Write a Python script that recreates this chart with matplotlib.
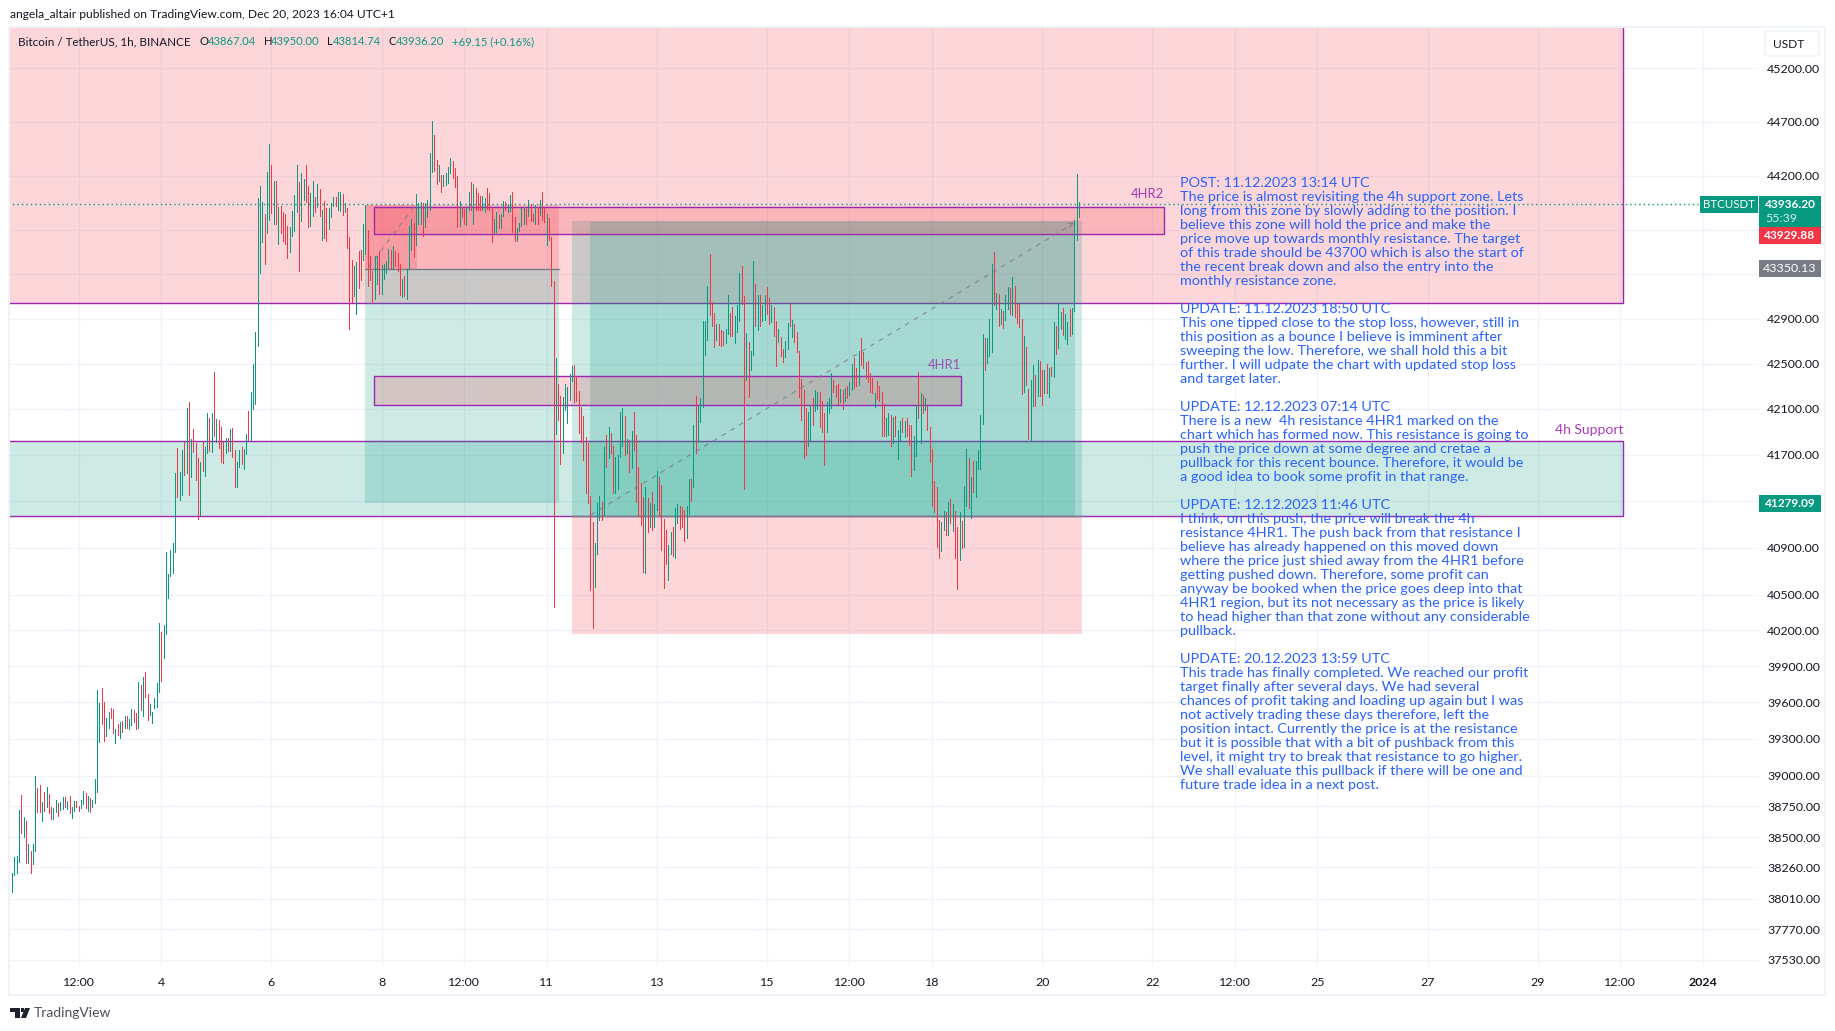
import matplotlib
matplotlib.use("Agg")
import matplotlib.pyplot as plt
from matplotlib.patches import Rectangle, Polygon, FancyBboxPatch

# ------------------ DATA ------------------
first_hour = -65   # hours relative to Dec 4 00:00
bar_high = [
38215,38345,38354,38719,38841,38664,38629,38444,38394,38449,
38999,38899,38922,38786,38867,38908,38850,38745,38737,38800,
38777,38783,38826,38826,38792,38832,38745,38792,38792,38751,
38800,38873,38858,38832,38815,38800,38971,39705,39597,39723,
39603,39471,39519,39555,39546,39378,39420,39435,39444,39486,
39486,39462,39546,39537,39513,39771,39747,39807,39849,39672,
39588,39525,39639,39765,40260,40185,40242,40863,40679,40882,
40941,41537,41756,41553,41737,41809,42105,42164,41834,41921,
41799,41668,41640,41809,41771,42062,42018,42062,42427,42008,
41999,41940,41809,41843,41843,41921,41930,41737,41640,41737,
41765,41746,41877,42086,42252,42498,42777,
43997,44108,43957,43849,44237,44496,44302,44154,44154,
43914,43923,43868,43849,43738,43729,43877,44025,44302,44145,
44219,44172,44293,44108,44043,44154,44006,44126,44080,43886,
43969,43904,43904,43951,44006,44006,44052,44052,44034,43951,
43904,43637,43424,43378,43406,43507,43516,43757,43932,43701,
43461,43332,43461,43461,43507,43387,43396,43415,43526,43516,
43553,43507,43489,43396,43258,43285,43350,43738,43803,43766,
44034,43948,43960,43951,43948,43978,44413,44708,44579,44348,
44293,44209,44209,44219,44283,44366,44339,44274,44200,43969,
43914,43895,43904,44052,44145,44126,44089,44043,44015,44015,
43997,44089,44043,43904,43803,43868,43840,43849,43969,43960,
43941,44025,44052,43821,43720,43766,43904,43911,43895,43978,
43941,43849,43932,43914,43978,44052,43904,43849,43812,43637,
43240,42546,42319,42213,42205,42319,42292,42406,42476,42485,
42389,42257,42117,42038,41854,41802,41346,41123,40943,41285,
41346,41294,41767,41872,41942,41889,41775,41679,41697,42073,
42108,42038,41837,41828,41907,42073,41872,41591,41451,41337,
41416,41329,41285,41381,41276,41556,41504,41434,41148,41046,
40926,41029,41072,41243,41276,41259,41250,41225,41259,41486,
41486,41959,42213,42126,42196,42879,42879,43194,43487,43048,
42947,42853,42853,42800,42792,42809,43112,42947,43002,42920,
43020,43313,43377,43103,42774,42695,42608,43423,43212,43112,
43112,43020,43112,43185,43084,43020,43002,42879,42809,42739,
42634,42704,42862,43029,42888,42853,42783,42616,42362,42266,
42108,42073,42135,42196,42266,42249,42252,42173,42060,42162,
42200,42419,42357,42314,42322,42279,42270,42287,42302,42340,
42498,42550,42463,42611,42725,42603,42515,42524,42419,42375,
42243,42349,42305,42252,42147,42024,42068,42051,42033,42042,
41919,41998,42024,41998,42024,41963,41963,41867,42138,42427,
42243,42226,42200,42130,41946,41753,41473,41420,41132,41115,
41209,41201,41289,41315,41277,41209,41073,41201,41124,41429,
41753,41674,41508,41648,41648,41744,42051,42760,42725,42725,
42901,43390,43501,43132,43123,42985,42967,43114,43188,43178,
43271,43197,43028,43028,42901,42743,42647,42279,42357,42489,
42401,42533,42524,42445,42445,42498,42463,42471,42874,42839,
43028,42957,42994,42939,42866,42985,42994,43796,44210,43961]
bar_low = [
38061,38200,38215,38304,38533,38505,38299,38299,38217,38290,
38394,38705,38705,38629,38711,38745,38696,38647,38647,38705,
38670,38722,38728,38742,38728,38696,38655,38711,38745,38711,
38739,38769,38737,38711,38705,38745,38777,38867,39276,39420,
39285,39327,39393,39471,39345,39267,39336,39309,39360,39387,
39387,39381,39411,39441,39378,39387,39537,39486,39645,39453,
39495,39429,39555,39561,39687,39780,39966,40167,40470,40658,
40686,40863,41335,41310,41353,41528,41544,41353,41503,41721,
41484,41147,41179,41562,41519,41712,41731,41721,41859,41809,
41756,41634,41625,41712,41731,41731,41678,41419,41422,41597,
41615,41572,41703,41824,41824,42096,42143,
42654,43313,43590,43396,43673,43794,43855,43757,43757,
43572,43673,43600,43572,43442,43498,43646,43692,43868,43332,
43784,43978,43960,43729,43738,43831,43868,43914,43831,43609,
43627,43600,43710,43821,43923,43923,43886,43877,43840,43868,
43535,42805,43054,43101,42944,43174,43248,43424,43486,43193,
43248,43045,43073,43211,43119,43119,43258,43313,43359,43350,
43350,43378,43332,43110,43091,43101,43073,43350,43516,43452,
43563,43757,43757,43646,43729,43824,43886,44237,44246,44126,
44154,44052,44108,44117,44135,44219,44182,44098,43729,43738,
43821,43757,43747,43886,43886,43757,43886,43886,43886,43886,
43868,43895,43886,43590,43673,43683,43720,43720,43831,43886,
43868,43877,43683,43600,43600,43692,43738,43757,43757,43831,
43784,43784,43757,43757,43840,43794,43775,43563,43609,43193,
40399,41881,42003,41618,41714,42091,41977,42178,42345,42161,
42170,41889,41810,41653,41364,41285,40536,40220,40561,40849,
41140,41140,41183,41591,41670,41714,41372,41372,41399,41679,
41775,41697,41714,41548,41583,41740,41294,41171,41089,40695,
40687,41029,41072,41046,41080,41226,41171,40883,40559,40764,
40627,40841,40832,40807,41114,41063,41080,40960,40986,41191,
41302,41416,41714,41810,41986,42117,42573,42713,42929,42835,
42643,42713,42669,42660,42669,42686,42765,42748,42748,42686,
42783,42879,43029,41399,42354,42205,42441,42573,42835,42800,
42835,42879,42888,42938,42853,42870,42748,42476,42695,42564,
42511,42555,42634,42835,42739,42695,42599,42205,42003,41670,
41697,41775,41828,41959,42082,42100,41946,41902,41607,41902,
42060,42112,42252,42208,42147,42165,42103,42173,42200,42226,
42270,42287,42302,42314,42489,42463,42375,42340,42252,42243,
42121,42191,42173,41867,41867,41867,41876,41779,41805,41867,
41665,41832,41902,41858,41867,41788,41516,41569,41692,42024,
41805,42060,42095,41919,41639,41260,41201,40902,40809,40868,
41047,41005,41005,41107,41039,40809,40545,40792,40894,40902,
41260,41243,41150,41376,41332,41578,41578,41972,42445,42506,
42568,42603,43022,42985,42839,42848,42813,42892,42985,42939,
42930,42911,42857,42830,42235,42252,42314,41840,41823,42130,
42130,42217,42217,42138,42243,42243,42208,42387,42384,42585,
42638,42804,42752,42717,42673,42743,42760,42967,43611,43823]
bar_dir = ("GGGGRGRGRG" "GRRGRGRRGG" "RGGRGRGGRR" "GGRGRGGGGR" "RGGRRGRGRG"
           "RGGRRGRGRR" "GGGGGRGGGG" "GGRGGRGRGR" "RRGRGGRGRG" "RRRGRGRRGG"
           "RGGRGGG" "GGGRGGRGR" "GRRRRGGGGR" "GGRRGGRGRG" "RRGGGRGGRG"
           "RRRGGRRGGR" "RRGGRGGGGR" "GRRRGRGGGR" "GGGRGGGGRR" "GRGGGGRRRG"
           "RRGGRGRRRG" "GRRRGGRGGR" "GGRRGGGGRG" "RRGRGRRGRR" "RGRRGGGGGR"
           "RRRRRRRRGG" "GRGRGRRGGG" "GRGRGRRRRR" "GRGRGGRRRR" "GGRGGRRRGG"
           "RGRGGGGGRR" "RGRRRGGRRG" "GGRRGRGGRG" "RGGRRGRRGR" "RGGRGRRRRR"
           "RGGRGGRRRG" "GGRRRGRGRG" "GRRGRRRRRR" "GRRRRGGRGR" "GGRGRRRGGR"
           "GRGRRRRRRG" "GRGRGRRGRG" "GRGRGGGGRG" "GGRGRGRGGR" "GRRRRGRRGG"
           "RGRRGRGRGR" "GGRGGRGGGG")

price_ticks = [45200,44700,44200,43700,43300,42900,42500,42100,41700,41300,40900,
               40500,40200,39900,39600,39300,39000,38750,38500,38260,38010,37770,37530]
covered_ticks = [43700, 43300, 41300]   # hidden behind the price boxes in the reference
time_ticks = [-36,0,48,96,132,168,216,264,300,336,384,432,468,504,552,600,636,672]
time_labels = ['12:00','4','6','8','12:00','11','13','15','12:00','18','20','22',
               '12:00','25','27','29','12:00','2024']

resistance_bottom = 43039
support_zone = (41168, 41818)
hr2_zone = (43662, 43909)
hr1_zone = (42134, 42389)
short_pos = dict(stop=43929.88, entry=43350.13, target=41279.09)
long_pos = dict(target=43784, entry=41170, stop=40166)
last_price = 43936.20

note_lines = """POST: 11.12.2023 13:14 UTC
The price is almost revisiting the 4h support zone. Lets
long from this zone by slowly adding to the position. I
believe this zone will hold the price and make the
price move up towards monthly resistance. The target
of this trade should be 43700 which is also the start of
the recent break down and also the entry into the
monthly resistance zone.

UPDATE: 11.12.2023 18:50 UTC
This one tipped close to the stop loss, however, still in
this position as a bounce I believe is imminent after
sweeping the low. Therefore, we shall hold this a bit
further. I will udpate the chart with updated stop loss
and target later.

UPDATE: 12.12.2023 07:14 UTC
There is a new  4h resistance 4HR1 marked on the
chart which has formed now. This resistance is going to
push the price down at some degree and cretae a
pullback for this recent bounce. Therefore, it would be
a good idea to book some profit in that range.

UPDATE: 12.12.2023 11:46 UTC
I think, on this push, the price will break the 4h
resistance 4HR1. The push back from that resistance I
believe has already happened on this moved down
where the price just shied away from the 4HR1 before
getting pushed down. Therefore, some profit can
anyway be booked when the price goes deep into that
4HR1 region, but its not necessary as the price is likely
to head higher than that zone without any considerable
pullback.

UPDATE: 20.12.2023 13:59 UTC
This trade has finally completed. We reached our profit
target finally after several days. We had several
chances of profit taking and loading up again but I was
not actively trading these days therefore, left the
position intact. Currently the price is at the resistance
but it is possible that with a bit of pushback from this
level, it might try to break that resistance to go higher.
We shall evaluate this pullback if there will be one and
future trade idea in a next post.""".split("\n")

# ------------------ STYLE ------------------
GREEN, RED, PURPLE, BLUE, GREY = '#089981', '#f23645', '#9c27b0', '#2962ff', '#787b86'
DARK = '#131722'
GRIDC = '#f0f3fa'
PX = 0.72
FONT = 'Lato'
W, H = 1835, 1031
plt.rcParams['font.family'] = [FONT, 'DejaVu Sans']
fig = plt.figure(figsize=(W/100, H/100), dpi=100, facecolor='white')
fx = lambda x: x / W
fy = lambda y: 1 - y / H

ax = fig.add_axes([fx(10), fy(967), (1759-10)/W, (967-27)/H])
ax.set_yscale('log')
ax.set_xlim(-65.96, 696.5)
ax.set_ylim(37474, 45591)
for s in ax.spines.values():
    s.set_visible(False)
ax.set_yticks(price_ticks, ['' if p in covered_ticks else f'{p:.2f}' for p in price_ticks])
ax.minorticks_off()
ax.set_xticks(time_ticks, time_labels)
ax.yaxis.tick_right()
ax.tick_params(axis='y', length=0, pad=5.8, labelsize=8.9, labelcolor=DARK)
ax.tick_params(axis='x', length=0, pad=7.5, labelsize=8.9, labelcolor=DARK)
ax.get_xticklabels()[-1].set_fontweight('bold')
ax.set_axisbelow(True)
ax.grid(True, color=GRIDC, lw=1.4*PX)

LEFT, RIGHT, TOP = -80, 637.4, 47000
def rect(x0, x1, p0, p1, color, alpha=0.2, edge=None, z=1.0):
    ax.add_patch(Rectangle((x0, p0), x1-x0, p1-p0, facecolor=matplotlib.colors.to_rgba(color, alpha),
                           edgecolor=edge if edge else 'none', lw=1.4*PX if edge else 0, zorder=z))

# zones
rect(LEFT, RIGHT, resistance_bottom, TOP, RED, edge=PURPLE)
rect(LEFT, RIGHT, support_zone[0], support_zone[1], GREEN, edge=PURPLE)

# short position
rect(88.8, 173.2, short_pos['entry'], short_pos['stop'], RED, z=1.1)
rect(88.8, 111.3, short_pos['entry'], short_pos['stop'], RED, z=1.1)
rect(88.8, 173.2, short_pos['target'], short_pos['entry'], GREEN, z=1.1)
ax.plot([88.8, 173.2], [short_pos['entry']]*2, color=GREY, lw=1.4*PX, zorder=1.3)

# long position
rect(179, 401.3, long_pos['entry'], long_pos['target'], GREEN, z=1.1)
rect(186.9, 398.3, long_pos['entry'], long_pos['target'], GREEN, z=1.1)
rect(179, 401.3, long_pos['stop'], long_pos['entry'], RED, z=1.1)
ax.plot([179, 401.3], [long_pos['entry']]*2, color=GREY, lw=1.4*PX, zorder=1.3)

# horizontal rectangles
rect(92.8, 437.2, hr2_zone[0], hr2_zone[1], RED, edge=PURPLE, z=1.2)
rect(92.8, 348.5, hr1_zone[0], hr1_zone[1], RED, edge=PURPLE, z=1.2)

# candles
hours = [first_hour + i for i in range(len(bar_high))]
up = [d == 'G' for d in bar_dir]
ax.vlines([h for h, u in zip(hours, up) if u], [l for l, u in zip(bar_low, up) if u],
          [t for t, u in zip(bar_high, up) if u], color=GREEN, lw=1.0*PX, zorder=3, antialiased=False)
ax.vlines([h for h, u in zip(hours, up) if not u], [l for l, u in zip(bar_low, up) if not u],
          [t for t, u in zip(bar_high, up) if not u], color=RED, lw=1.0*PX, zorder=3, antialiased=False)

# trade path lines
dash = (0, (4.0, 4.5))
ax.plot([90.2, 110.6], [43360, 43925], color=GREY, lw=1.2*PX, ls=dash, alpha=.75, zorder=3.5)
ax.plot([187.2, 397.6], [41180, 43760], color=GREY, lw=1.2*PX, ls=dash, alpha=.75, zorder=3.5)
ax.annotate('', xy=(397.6, 43770), xytext=(395.5, 43745), zorder=3.5,
            arrowprops=dict(arrowstyle='->', color=GREY, lw=1.0*PX, alpha=.8, mutation_scale=9))

# last price dotted line
ax.plot([LEFT, 696.5], [last_price]*2, color=GREEN, lw=1.4*PX, ls=(0, (1.0, 2.2)), zorder=3.6)

# zone labels
ax.text(437.2, 44031, '4HR2', ha='right', va='center', color=PURPLE, fontsize=9.4, zorder=6, alpha=.9)
ax.text(348.5, 42490, '4HR1', ha='right', va='center', color=PURPLE, fontsize=9.4, zorder=6, alpha=.8)
ax.text(637.4, 41915, '4h Support', ha='right', va='center', color=PURPLE, fontsize=10, zorder=6, alpha=.9)

# annotation block
for i, line in enumerate(note_lines):
    if line:
        fig.text(fx(1180.2), fy(182.6 + 14*i), line, color=BLUE, fontsize=10.35, ha='left', va='center', zorder=6)

# frame
fig.add_artist(Rectangle((fx(9), fy(995)), (1825-9)/W, (995-26.5)/H, transform=fig.transFigure,
                         fill=False, edgecolor=GRIDC, lw=2*PX, zorder=4))

# price boxes
def box(x0, y0, x1, y1, color, z=5):
    fig.add_artist(Rectangle((fx(x0), fy(y1)), (x1-x0)/W, (y1-y0)/H, transform=fig.transFigure,
                             facecolor=color, edgecolor='none', zorder=z))
def label(x, y, s, color, size=8.9, ha='center', weight='normal', z=7):
    fig.text(fx(x), fy(y), s, color=color, fontsize=size, ha=ha, va='center', fontweight=weight, zorder=z)

box(1700, 196, 1758, 212.7, GREEN)
label(1729, 204.5, 'BTCUSDT', 'white', size=8.3)
box(1759, 196, 1821, 227, GREEN)
label(1790, 204.5, f'{last_price:.2f}', 'white', weight='bold', size=8.6)
label(1781, 218.5, '55:39', '#cfeee8')
box(1759, 227, 1821, 244, RED)
label(1790, 235.7, '43929.88', 'white', weight='bold', size=8.6)
box(1759, 260, 1821, 276.7, GREY)
label(1790, 268.3, '43350.13', 'white')
box(1759, 495, 1821, 512, GREEN)
label(1790, 503.3, '41279.09', 'white', weight='bold', size=8.6)

# USDT button
fig.add_artist(FancyBboxPatch((fx(1765), fy(56)), 54/W, 25/H, transform=fig.transFigure,
                              boxstyle=matplotlib.patches.BoxStyle('Round', pad=0, rounding_size=0.002),
                              facecolor='white', edgecolor=GRIDC, lw=1.6*PX, zorder=5))
label(1773, 44.8, 'USDT', DARK, ha='left', size=8.6)

# header
label(10, 15, 'angela_altair published on TradingView.com, Dec 20, 2023 16:04 UTC+1', DARK, size=8.65, ha='left')
label(18.2, 41.7, 'Bitcoin / TetherUS, 1h, BINANCE', DARK, size=8.4, ha='left')
for x, s, c in [(199.7,'O',DARK),(207.6,'43867.04',GREEN),(263.7,'H',DARK),(270.9,'43950.00',GREEN),
                (327,'L',DARK),(333,'43814.74',GREEN),(388.7,'C',DARK),(395.4,'43936.20',GREEN),
                (452,'+69.15 (+0.16%)',GREEN)]:
    label(x, 41.7, s, c, size=8.1, ha='left')

# footer logo
fig.add_artist(Polygon([(fx(10),fy(1008)),(fx(19.5),fy(1008)),(fx(19.5),fy(1018)),(fx(14.5),fy(1018)),
                        (fx(14.5),fy(1012)),(fx(10),fy(1012))], transform=fig.transFigure, facecolor='#1e222d', edgecolor='none', zorder=6))
fig.add_artist(Polygon([(fx(25),fy(1008)),(fx(30),fy(1008)),(fx(26),fy(1018)),(fx(21),fy(1018))],
                       transform=fig.transFigure, facecolor='#1e222d', edgecolor='none', zorder=6))
fig.add_artist(Polygon([(fx(20.5),fy(1008)),(fx(24),fy(1008)),(fx(24),fy(1012)),(fx(20.5),fy(1012))],
                       transform=fig.transFigure, facecolor='#1e222d', edgecolor='none', zorder=6))
label(33.6, 1013, 'TradingView', '#4a4e59', size=10, ha='left')

fig.savefig('out.png', dpi=100, facecolor='white')
